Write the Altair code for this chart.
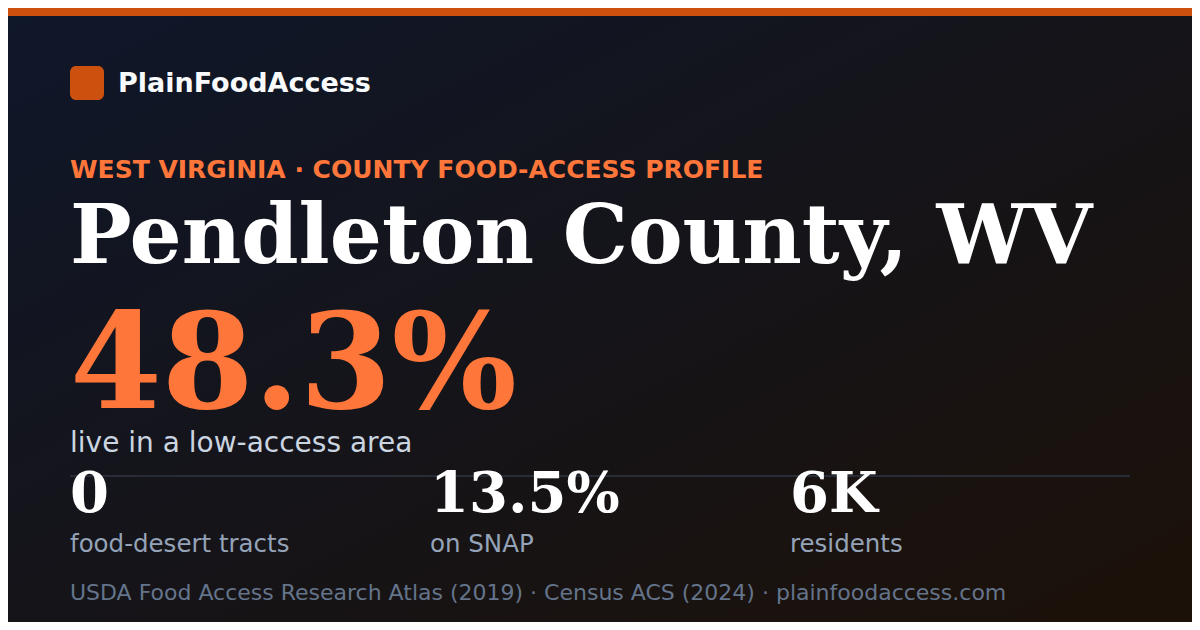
import altair as alt
import pandas as pd

# ---- content ----
brand = ["PlainFoodAccess"]
kicker = ["WEST VIRGINIA · COUNTY FOOD-ACCESS PROFILE"]
county = ["Pendleton County, WV"]
headline_value = [48.3]
headline_label = ["live in a low-access area"]
stat_values = ["0", "13.5%", "6K"]
stat_labels = ["food-desert tracts", "on SNAP", "residents"]
footer = ["USDA Food Access Research Atlas (2019) · Census ACS (2024) · plainfoodaccess.com"]

# ---- layout ----
OFF = 8            # page margin; layout below is in reference-pixel coordinates
W, H = 1200 - 2 * OFF, 630 - 2 * OFF
SANS = "DejaVu Sans"
SERIF = "DejaVu Serif"
ORANGE = "#ff763a"
ORANGE_DARK = "#cc500e"


def px(v):
    return v - OFF


one = pd.DataFrame({"k": [0]})

bg = alt.Chart(one).mark_rect(
    fill=alt.Gradient(
        gradient="linear",
        stops=[
            alt.GradientStop(color="#0f172a", offset=0),
            alt.GradientStop(color="#151419", offset=0.5),
            alt.GradientStop(color="#1c1108", offset=1),
        ],
        x1=0, y1=0, x2=1, y2=1,
    ),
).encode(x=alt.value(0), x2=alt.value(W), y=alt.value(0), y2=alt.value(H))

topbar = alt.Chart(one).mark_rect(fill=ORANGE_DARK).encode(
    x=alt.value(0), x2=alt.value(W), y=alt.value(0), y2=alt.value(8)
)

logo = alt.Chart(one).mark_rect(fill=ORANGE_DARK, cornerRadius=6).encode(
    x=alt.value(px(70)), x2=alt.value(px(104)), y=alt.value(px(66)), y2=alt.value(px(100))
)


def text_layer(values, x, y, size, color, font=SANS, weight="normal"):
    df = pd.DataFrame({"t": values})
    return alt.Chart(df).mark_text(
        align="left", baseline="alphabetic", font=font, fontSize=size,
        fontWeight=weight, color=color,
    ).encode(text="t:N", x=alt.value(px(x)), y=alt.value(px(y)))


brand_t = text_layer(brand, 118, 92, 27, "#f8fafc", weight="bold")
kicker_t = text_layer(kicker, 70, 178, 25, ORANGE, weight="bold")
county_t = text_layer(county, 70, 263, 82, "#ffffff", font=SERIF, weight="bold")
big_t = text_layer([f"{v:.1f}%" for v in headline_value], 70, 408, 132, ORANGE,
                   font=SERIF, weight="bold")
label_t = text_layer(headline_label, 70, 452, 28, "#cbd5e1")

divider = alt.Chart(one).mark_rule(stroke="#282c36", strokeWidth=2).encode(
    x=alt.value(px(70)), x2=alt.value(px(1130)), y=alt.value(px(476))
)

stats = pd.DataFrame({"i": [0, 1, 2], "value": stat_values, "label": stat_labels})
sx = alt.X("i:Q", scale=alt.Scale(domain=[0, 2], range=[px(70), px(790)]), axis=None)

stat_v = alt.Chart(stats).mark_text(
    align="left", baseline="alphabetic", font=SERIF, fontSize=56,
    fontWeight="bold", color="#ffffff",
).encode(x=sx, y=alt.value(px(512)), text="value:N")

stat_l = alt.Chart(stats).mark_text(
    align="left", baseline="alphabetic", font=SANS, fontSize=24.5, color="#94a3b8",
).encode(x=sx, y=alt.value(px(552)), text="label:N")

footer_t = text_layer(footer, 70, 600, 22, "#64748b")

chart = alt.layer(
    bg, topbar, logo, brand_t, kicker_t, county_t, big_t, label_t,
    divider, stat_v, stat_l, footer_t,
).properties(
    width=W, height=H, padding=0, background="#0f172a",
).configure_view(stroke=None)

chart.save("out.html", embed_options={"renderer": "svg", "actions": False})
